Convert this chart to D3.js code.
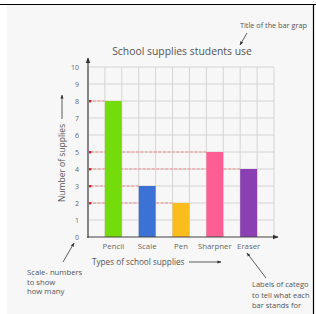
<!DOCTYPE html>
<html>
<head>
<meta charset="utf-8">
<script src="https://cdn.jsdelivr.net/npm/d3@7"></script>
<style>
  body { margin: 0; background: #fff; }
  text { font-family: "Open Sans", "DejaVu Sans", sans-serif; }
</style>
</head>
<body>
<script>
// chart data
var categories = ['Pencil', 'Scale', 'Pen', 'Sharpner', 'Eraser'];
var counts = [8, 3, 2, 5, 4];
var barColors = ['#74dc0a', '#3b72d4', '#fbbd1e', '#fd5f95', '#8a3fb2'];
var yTicks = [0, 1, 2, 3, 4, 5, 6, 7, 8, 9, 10];
// annotation text as it shows in the picture (cut by the frame there)
var topNote = 'Title of the bar grap';
var leftNote = ['Scale- numbers', 'to show', 'how many'];
var rightNote = ['Labels of catego', 'to tell what each', 'bar stands for'];

var w = 316, h = 314;
var svg = d3.select('body').append('svg')
    .attr('width', w)
    .attr('height', h);

var defs = svg.append('defs');
defs.append('clipPath').attr('id', 'panel')
    .append('rect').attr('x', 7).attr('y', 5).attr('width', 306).attr('height', 309);
defs.append('marker').attr('id', 'arr')
    .attr('viewBox', '0 0 10 10').attr('refX', 9).attr('refY', 5)
    .attr('markerWidth', 5).attr('markerHeight', 5).attr('orient', 'auto')
    .append('path').attr('d', 'M0,1 L10,5 L0,9 Z').attr('fill', '#333');
defs.append('marker').attr('id', 'reddot')
    .attr('viewBox', '0 0 10 10').attr('refX', 5).attr('refY', 5)
    .attr('markerWidth', 3).attr('markerHeight', 3)
    .append('circle').attr('cx', 5).attr('cy', 5).attr('r', 5).attr('fill', '#e8202a');

// background panel
svg.append('rect').attr('x', 7).attr('y', 5).attr('width', 306).attr('height', 309)
    .attr('fill', '#f7f7f7');

var g = svg.append('g').attr('clip-path', 'url(#panel)');

var x = d3.scaleBand().domain(categories).range([88, 274])
    .paddingInner(0.5).paddingOuter(0.5);
var y = d3.scaleLinear().domain([0, 10]).range([237, 67]);

// grid
var gridX = [88, 274];
categories.forEach(function(c) {
    gridX.push(x(c));
    gridX.push(x(c) + x.bandwidth());
});
g.append('g').selectAll('line').data(gridX).enter().append('line')
    .attr('x1', function(d) { return d; }).attr('x2', function(d) { return d; })
    .attr('y1', y(10)).attr('y2', y(0))
    .attr('stroke', '#d4d4d4').attr('stroke-width', 1);
g.append('g').selectAll('line').data(yTicks.slice(1)).enter().append('line')
    .attr('x1', 88).attr('x2', 274)
    .attr('y1', function(d) { return y(d); }).attr('y2', function(d) { return y(d); })
    .attr('stroke', '#d4d4d4').attr('stroke-width', 1);

// red guide lines from axis to bar tops
g.append('g').selectAll('line').data(categories).enter().append('line')
    .attr('x1', function(d) { return x(d); })
    .attr('x2', 90)
    .attr('y1', function(d, i) { return y(counts[i]); })
    .attr('y2', function(d, i) { return y(counts[i]); })
    .attr('stroke', '#f08a8a').attr('stroke-width', 1)
    .attr('stroke-dasharray', '3,1.5')
    .attr('marker-end', 'url(#reddot)');

// bars
g.append('g').selectAll('rect').data(categories).enter().append('rect')
    .attr('x', function(d) { return x(d); })
    .attr('y', function(d, i) { return y(counts[i]); })
    .attr('width', x.bandwidth())
    .attr('height', function(d, i) { return y(0) - y(counts[i]); })
    .attr('fill', function(d, i) { return barColors[i]; });

// axes
g.append('line').attr('x1', 88).attr('x2', 88).attr('y1', 238).attr('y2', 58)
    .attr('stroke', '#444').attr('stroke-width', 1.2).attr('marker-end', 'url(#arr)');
g.append('line').attr('x1', 87).attr('x2', 278).attr('y1', 237).attr('y2', 237)
    .attr('stroke', '#444').attr('stroke-width', 1.2).attr('marker-end', 'url(#arr)');

// tick labels
g.append('g').selectAll('text').data(yTicks).enter().append('text')
    .attr('x', 79).attr('y', function(d) { return y(d) + 2.5; })
    .attr('text-anchor', 'end').attr('font-size', 7).attr('fill', '#666')
    .text(function(d) { return d; });
g.append('g').selectAll('text').data(categories).enter().append('text')
    .attr('x', function(d) { return x(d) + x.bandwidth() / 2; })
    .attr('y', 249)
    .attr('text-anchor', 'middle').attr('font-size', 7.8).attr('fill', '#666')
    .text(function(d) { return d; });

// title
g.append('text').attr('x', 182).attr('y', 55).attr('text-anchor', 'middle')
    .attr('font-size', 10.4).attr('fill', '#555').text('School supplies students use');

// axis titles
g.append('text').attr('transform', 'translate(64.5,163) rotate(-90)')
    .attr('text-anchor', 'middle').attr('font-size', 8.5).attr('fill', '#555')
    .text('Number of supplies');
g.append('line').attr('x1', 62).attr('x2', 62).attr('y1', 119).attr('y2', 95)
    .attr('stroke', '#333').attr('stroke-width', 0.8).attr('marker-end', 'url(#arr)');
g.append('text').attr('x', 92).attr('y', 265)
    .attr('font-size', 8.2).attr('fill', '#555').text('Types of school supplies');
g.append('line').attr('x1', 189).attr('x2', 221).attr('y1', 262).attr('y2', 262)
    .attr('stroke', '#333').attr('stroke-width', 0.8).attr('marker-end', 'url(#arr)');

// annotations
g.append('text').attr('x', 240).attr('y', 28)
    .attr('font-size', 7.3).attr('fill', '#555').text(topNote);
g.append('line').attr('x1', 247).attr('y1', 33).attr('x2', 240).attr('y2', 45)
    .attr('stroke', '#333').attr('stroke-width', 0.8).attr('marker-end', 'url(#arr)');

g.append('g').selectAll('text').data(leftNote).enter().append('text')
    .attr('x', 27).attr('y', function(d, i) { return 275 + i * 9.5; })
    .attr('font-size', 7.7).attr('fill', '#555').text(function(d) { return d; });
g.append('line').attr('x1', 63).attr('y1', 262).attr('x2', 74).attr('y2', 243)
    .attr('stroke', '#333').attr('stroke-width', 0.8).attr('marker-end', 'url(#arr)');

g.append('g').selectAll('text').data(rightNote).enter().append('text')
    .attr('x', 252).attr('y', function(d, i) { return 287 + i * 10.5; })
    .attr('font-size', 7.5).attr('fill', '#555').text(function(d) { return d; });
g.append('line').attr('x1', 266).attr('y1', 278).attr('x2', 247).attr('y2', 253)
    .attr('stroke', '#333').attr('stroke-width', 0.8).attr('marker-end', 'url(#arr)');

// frame
svg.append('line').attr('x1', 0).attr('x2', 316).attr('y1', 4.5).attr('y2', 4.5)
    .attr('stroke', '#000').attr('stroke-width', 1.2);
svg.append('line').attr('x1', 313.5).attr('x2', 313.5).attr('y1', 4).attr('y2', 314)
    .attr('stroke', '#000').attr('stroke-width', 1.2);
</script>
</body>
</html>
